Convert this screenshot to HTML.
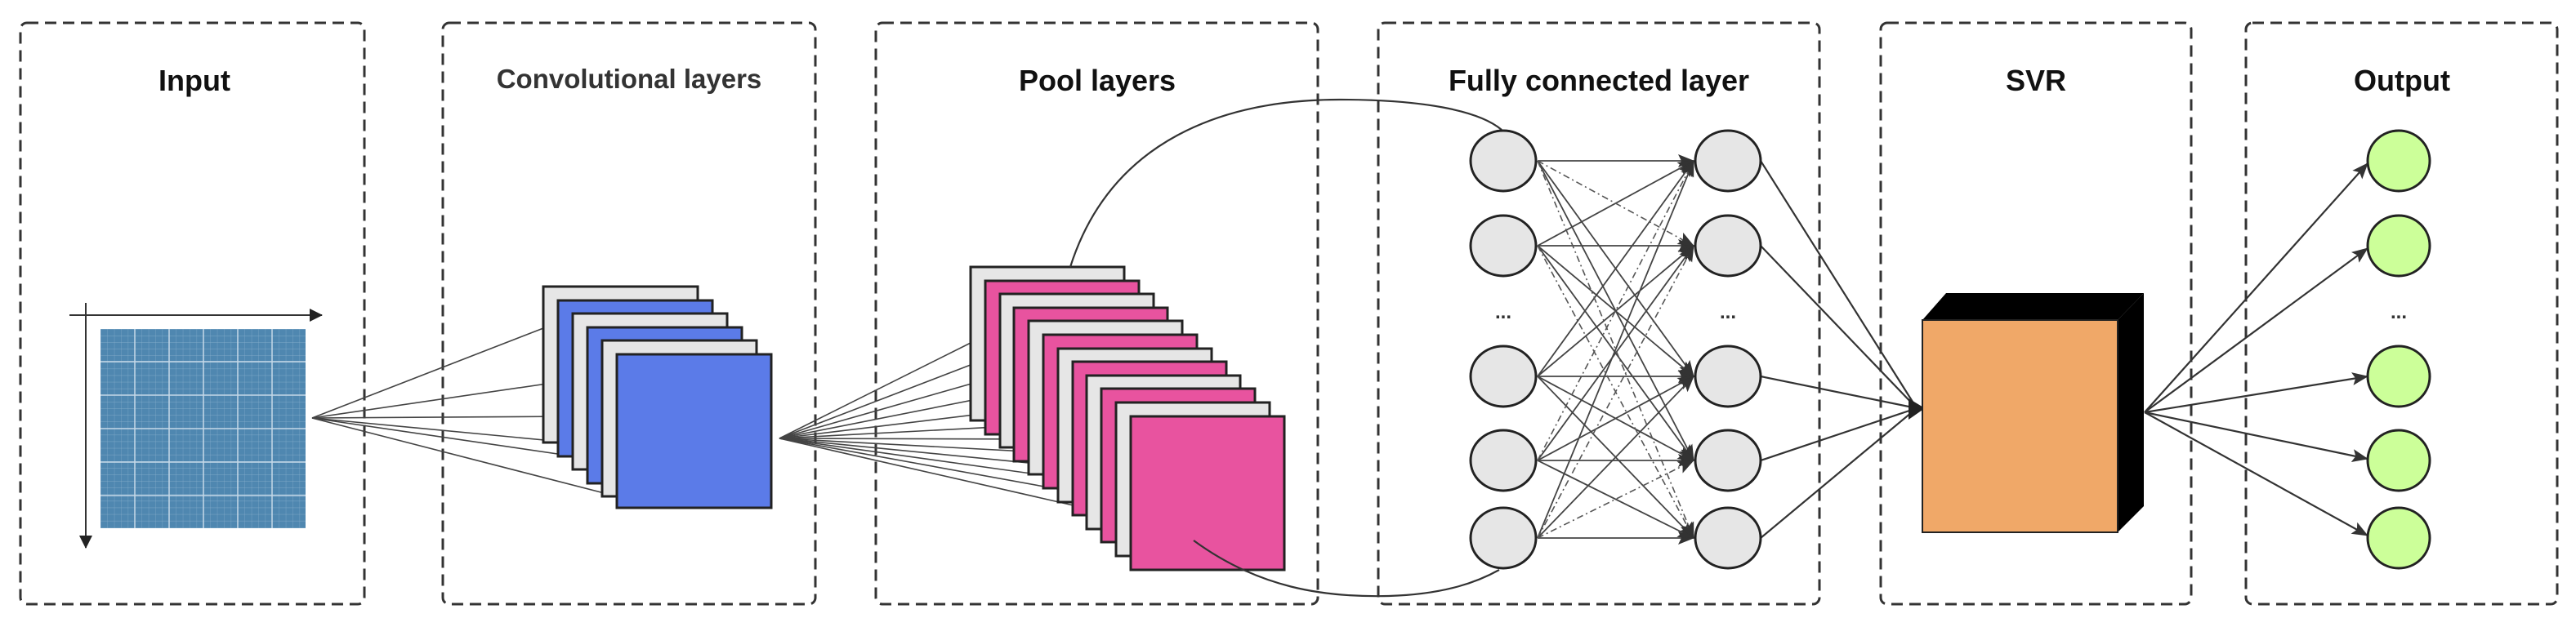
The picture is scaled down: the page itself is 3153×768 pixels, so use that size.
<!DOCTYPE html>
<html><head><meta charset="utf-8"><style>
html,body{margin:0;padding:0;background:#fff;}
svg{display:block;}
text{font-family:"Liberation Sans",sans-serif;font-weight:bold;}
</style></head><body>
<svg width="3153" height="768" viewBox="0 0 3153 768" xmlns="http://www.w3.org/2000/svg">
<defs>
<marker id="ah" markerWidth="10" markerHeight="10" refX="9" refY="5" orient="auto" markerUnits="userSpaceOnUse" viewBox="0 0 10 10"><path d="M0,0 L10,5 L0,10 z" fill="#222"/></marker>
<marker id="ah2" markerWidth="20" markerHeight="18" refX="19" refY="9" orient="auto" markerUnits="userSpaceOnUse" viewBox="0 0 20 18"><path d="M0,1 L20,9 L0,17 L4,9 z" fill="#333"/></marker>
<marker id="ah3" markerWidth="16" markerHeight="20" refX="15" refY="10" orient="auto" markerUnits="userSpaceOnUse" viewBox="0 0 16 20"><path d="M0,2 L16,10 L0,18 z" fill="#222"/></marker>
<pattern id="grid" width="8.4" height="8.1" patternUnits="userSpaceOnUse" x="123" y="403"><rect width="8.4" height="8.1" fill="#4f87b0"/><path d="M0,0 H8.4 M0,0 V8.1" stroke="#8fb4d0" stroke-width="0.6"/></pattern>
</defs>

<!-- dashed boxes -->
<g fill="none" stroke="#333" stroke-width="3" stroke-dasharray="14 8">
<rect x="25" y="28" width="421" height="712" rx="8"/>
<rect x="542" y="28" width="456" height="712" rx="8"/>
<rect x="1072" y="28" width="541" height="712" rx="8"/>
<rect x="1687" y="28" width="540" height="712" rx="8"/>
<rect x="2302" y="28" width="380" height="712" rx="8"/>
<rect x="2749" y="28" width="381" height="712" rx="8"/>
</g>

<!-- titles -->
<g font-size="36" text-anchor="middle" fill="#111">
<text x="238" y="111">Input</text>
<text x="770" y="108" fill="#333" font-size="33">Convolutional layers</text>
<text x="1343" y="111">Pool layers</text>
<text x="1957" y="111">Fully connected layer</text>
<text x="2492" y="111">SVR</text>
<text x="2940" y="111">Output</text>
</g>

<!-- input -->
<rect x="123" y="403" width="251" height="244" fill="url(#grid)"/>
<g stroke="#c5d9e8" stroke-width="1.5">
<line x1="165" y1="403" x2="165" y2="647"/><line x1="207" y1="403" x2="207" y2="647"/><line x1="249" y1="403" x2="249" y2="647"/><line x1="291" y1="403" x2="291" y2="647"/><line x1="333" y1="403" x2="333" y2="647"/>
<line x1="123" y1="443" x2="374" y2="443"/><line x1="123" y1="484" x2="374" y2="484"/><line x1="123" y1="525" x2="374" y2="525"/><line x1="123" y1="566" x2="374" y2="566"/><line x1="123" y1="607" x2="374" y2="607"/>
</g>
<line x1="85" y1="386" x2="394" y2="386" stroke="#333" stroke-width="2" marker-end="url(#ah3)"/>
<line x1="105" y1="371" x2="105" y2="671" stroke="#333" stroke-width="2" marker-end="url(#ah3)"/>

<!-- conv fan -->
<g stroke="#444" stroke-width="1.6">
<line x1="382" y1="512" x2="665" y2="402"/>
<line x1="382" y1="512" x2="683" y2="468"/>
<line x1="382" y1="512" x2="701" y2="510"/>
<line x1="382" y1="512" x2="719" y2="544"/>
<line x1="382" y1="512" x2="737" y2="564"/>
<line x1="382" y1="512" x2="755" y2="608"/>
</g>
<g stroke="#222" stroke-width="3">
<rect x="665" y="351" width="189" height="191" fill="#e6e6e6"/>
<rect x="683" y="368" width="189" height="191" fill="#5b7be8"/>
<rect x="701" y="384" width="189" height="191" fill="#e6e6e6"/>
<rect x="719" y="401" width="189" height="191" fill="#5b7be8"/>
<rect x="737" y="417" width="189" height="191" fill="#e6e6e6"/>
<rect x="755" y="434" width="189" height="188" fill="#5b7be8"/>
</g>

<!-- pool fan -->
<g stroke="#444" stroke-width="1.6">
<line x1="954" y1="537" x2="1188" y2="420"/>
<line x1="954" y1="537" x2="1206" y2="440"/>
<line x1="954" y1="537" x2="1224" y2="460"/>
<line x1="954" y1="537" x2="1241" y2="480"/>
<line x1="954" y1="537" x2="1259" y2="500"/>
<line x1="954" y1="537" x2="1277" y2="520"/>
<line x1="954" y1="537" x2="1295" y2="538"/>
<line x1="954" y1="537" x2="1313" y2="556"/>
<line x1="954" y1="537" x2="1330" y2="574"/>
<line x1="954" y1="537" x2="1348" y2="592"/>
<line x1="954" y1="537" x2="1366" y2="612"/>
<line x1="954" y1="537" x2="1384" y2="635"/>
</g>
<g stroke="#222" stroke-width="3">
<rect x="1188" y="327" width="188" height="188" fill="#e6e6e6"/>
<rect x="1206" y="344" width="188" height="188" fill="#e8539f"/>
<rect x="1224" y="360" width="188" height="188" fill="#e6e6e6"/>
<rect x="1241" y="377" width="188" height="188" fill="#e8539f"/>
<rect x="1259" y="393" width="188" height="188" fill="#e6e6e6"/>
<rect x="1277" y="410" width="188" height="188" fill="#e8539f"/>
<rect x="1295" y="427" width="188" height="188" fill="#e6e6e6"/>
<rect x="1313" y="443" width="188" height="188" fill="#e8539f"/>
<rect x="1330" y="460" width="188" height="188" fill="#e6e6e6"/>
<rect x="1348" y="476" width="188" height="188" fill="#e8539f"/>
<rect x="1366" y="493" width="188" height="188" fill="#e6e6e6"/>
<rect x="1384" y="510" width="188" height="188" fill="#e8539f"/>
</g>

<!-- arcs -->
<path d="M1310,327 C1360,170 1500,122 1640,122 C1740,122 1810,135 1838,159" fill="none" stroke="#333" stroke-width="2.2"/>
<path d="M1461,662 C1540,720 1620,732 1700,730 C1770,728 1810,712 1835,698" fill="none" stroke="#333" stroke-width="2.2"/>

<!-- FC connections -->
<g stroke="#444" stroke-width="1.8" marker-end="url(#ah2)">
<line x1="1882" y1="197" x2="2073" y2="197"/>
<line x1="1882" y1="301" x2="2073" y2="301"/>
<line x1="1882" y1="461" x2="2073" y2="461"/>
<line x1="1882" y1="564" x2="2073" y2="564"/>
<line x1="1882" y1="659" x2="2073" y2="659"/>
<line x1="1882" y1="197" x2="2073" y2="461"/>
<line x1="1882" y1="197" x2="2073" y2="564"/>
<line x1="1882" y1="301" x2="2073" y2="197"/>
<line x1="1882" y1="301" x2="2073" y2="461"/>
<line x1="1882" y1="301" x2="2073" y2="564"/>
<line x1="1882" y1="461" x2="2073" y2="197"/>
<line x1="1882" y1="461" x2="2073" y2="301"/>
<line x1="1882" y1="461" x2="2073" y2="564"/>
<line x1="1882" y1="461" x2="2073" y2="659"/>
<line x1="1882" y1="564" x2="2073" y2="301"/>
<line x1="1882" y1="564" x2="2073" y2="461"/>
<line x1="1882" y1="564" x2="2073" y2="659"/>
<line x1="1882" y1="659" x2="2073" y2="197"/>
<line x1="1882" y1="659" x2="2073" y2="461"/>
</g>
<g stroke="#555" stroke-width="1.6" stroke-dasharray="8 4 2 4" marker-end="url(#ah2)">
<line x1="1882" y1="197" x2="2073" y2="301"/>
<line x1="1882" y1="197" x2="2073" y2="659"/>
<line x1="1882" y1="301" x2="2073" y2="659"/>
<line x1="1882" y1="564" x2="2073" y2="197"/>
<line x1="1882" y1="659" x2="2073" y2="301"/>
<line x1="1882" y1="659" x2="2073" y2="564"/>
</g>

<!-- FC to SVR -->
<g stroke="#333" stroke-width="2.2">
<line x1="2155" y1="197" x2="2346" y2="500"/>
<line x1="2155" y1="301" x2="2346" y2="500"/>
<line x1="2155" y1="461" x2="2346" y2="500"/>
<line x1="2155" y1="564" x2="2346" y2="500"/>
<line x1="2155" y1="659" x2="2346" y2="500"/>
</g>
<path d="M2336,488 L2356,500 L2336,514 z" fill="#222"/>

<!-- nodes -->
<g fill="#e6e6e6" stroke="#222" stroke-width="3">
<ellipse cx="1840" cy="197" rx="40" ry="37"/>
<ellipse cx="1840" cy="301" rx="40" ry="37"/>
<ellipse cx="1840" cy="461" rx="40" ry="37"/>
<ellipse cx="1840" cy="564" rx="40" ry="37"/>
<ellipse cx="1840" cy="659" rx="40" ry="37"/>
<ellipse cx="2115" cy="197" rx="40" ry="37"/>
<ellipse cx="2115" cy="301" rx="40" ry="37"/>
<ellipse cx="2115" cy="461" rx="40" ry="37"/>
<ellipse cx="2115" cy="564" rx="40" ry="37"/>
<ellipse cx="2115" cy="659" rx="40" ry="37"/>
</g>
<g font-size="24" text-anchor="middle" fill="#333">
<text x="1840" y="390">...</text>
<text x="2115" y="390">...</text>
<text x="2936" y="390">...</text>
</g>

<!-- SVR cube -->
<path d="M2353,392 L2382,359 L2624,359 L2592,392 z" fill="#000"/>
<path d="M2592,392 L2624,359 L2624,620 L2592,652 z" fill="#000"/>
<rect x="2353" y="392" width="239" height="260" fill="#f0a868" stroke="#222" stroke-width="2"/>

<!-- output arrows -->
<g stroke="#333" stroke-width="2.2" marker-end="url(#ah2)">
<line x1="2625" y1="505" x2="2898" y2="200"/>
<line x1="2625" y1="505" x2="2898" y2="304"/>
<line x1="2625" y1="505" x2="2898" y2="461"/>
<line x1="2625" y1="505" x2="2898" y2="562"/>
<line x1="2625" y1="505" x2="2898" y2="656"/>
</g>
<g fill="#ccff99" stroke="#222" stroke-width="3">
<ellipse cx="2936" cy="197" rx="38" ry="37"/>
<ellipse cx="2936" cy="301" rx="38" ry="37"/>
<ellipse cx="2936" cy="461" rx="38" ry="37"/>
<ellipse cx="2936" cy="564" rx="38" ry="37"/>
<ellipse cx="2936" cy="659" rx="38" ry="37"/>
</g>
</svg>
</body></html>
